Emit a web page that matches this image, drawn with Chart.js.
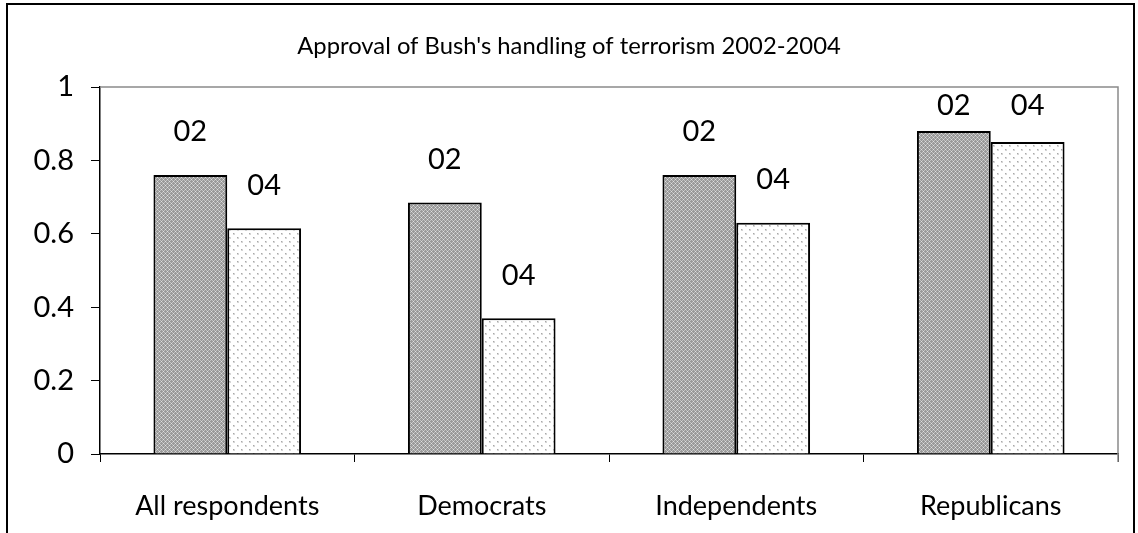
<!DOCTYPE html>
<html>
<head>
<meta charset="utf-8">
<title>Approval of Bush's handling of terrorism 2002-2004</title>
<script src="https://cdn.jsdelivr.net/npm/chart.js@4.4.1/dist/chart.umd.min.js"></script>
<style>
  html, body { margin: 0; padding: 0; background: #fff; }
  #wrap { position: relative; width: 1138px; height: 533px; overflow: hidden; }
  #frame {
    position: absolute; left: 6px; top: 3px; width: 1125px; height: 600px;
    border: 2px solid #000; pointer-events: none;
  }
</style>
</head>
<body>
<div id="wrap">
  <canvas id="chart"></canvas>
  <div id="frame"></div>
</div>
<script>
var titleText = "Approval of Bush's handling of terrorism 2002-2004";
var groups = ['All respondents', 'Democrats', 'Independents', 'Republicans'];
var yearTags = ['02', '04'];
var approval2002 = [0.76, 0.685, 0.76, 0.88];
var approval2004 = [0.615, 0.37, 0.63, 0.85];
var yTicks = [0, 0.2, 0.4, 0.6, 0.8, 1];

var fontFamily = 'Lato, "Noto Sans", sans-serif';

// dense grey cross-hatch for the 2002 bars
function makeDarkPattern() {
  var c = document.createElement('canvas');
  c.width = 4; c.height = 4;
  var g = c.getContext('2d');
  g.fillStyle = '#999999';
  g.fillRect(0, 0, 4, 4);
  g.fillStyle = '#c0c0c0';
  g.fillRect(0, 0, 1, 1); g.fillRect(2, 2, 1, 1);
  g.fillRect(2, 0, 1, 1); g.fillRect(0, 2, 1, 1);
  g.fillStyle = '#e0e0e0';
  g.fillRect(1, 1, 1, 1); g.fillRect(3, 3, 1, 1);
  return g.createPattern(c, 'repeat');
}

// sparse grey dots for the 2004 bars
function makeLightPattern() {
  var c = document.createElement('canvas');
  c.width = 8; c.height = 8;
  var g = c.getContext('2d');
  g.fillStyle = '#ffffff';
  g.fillRect(0, 0, 8, 8);
  g.fillStyle = '#d6d6d6';
  g.fillRect(1, 1, 2, 2); g.fillRect(5, 5, 2, 2);
  g.fillStyle = '#a8a8a8';
  g.fillRect(1, 1, 1, 1); g.fillRect(5, 5, 1, 1);
  return g.createPattern(c, 'repeat');
}

var frameAndLabels = {
  id: 'frameAndLabels',
  beforeDatasetsDraw: function(chart) {
    var ctx = chart.ctx, a = chart.chartArea;
    ctx.save();
    ctx.strokeStyle = '#8a8a8a';
    ctx.lineWidth = 1.5;
    ctx.beginPath();
    ctx.moveTo(a.left, a.top);
    ctx.lineTo(a.right, a.top);
    ctx.lineTo(a.right, a.bottom + 8);
    ctx.stroke();
    ctx.restore();
  },
  afterDatasetsDraw: function(chart) {
    var ctx = chart.ctx;
    ctx.save();
    ctx.fillStyle = '#000';
    ctx.font = '29px ' + fontFamily;
    ctx.textAlign = 'center';
    ctx.textBaseline = 'middle';
    chart.data.datasets.forEach(function(ds, i) {
      chart.getDatasetMeta(i).data.forEach(function(bar) {
        var y = Math.max(bar.y - 43, 106);
        ctx.fillText(yearTags[i], bar.x, y);
      });
    });
    ctx.font = '23.8px ' + fontFamily;
    ctx.fillText(titleText, 569, 46);
    ctx.restore();
  }
};

var ctx = document.getElementById('chart');
new Chart(ctx, {
  type: 'bar',
  data: {
    labels: groups,
    datasets: [{
      label: yearTags[0],
      data: approval2002,
      backgroundColor: makeDarkPattern(),
      borderColor: '#000',
      borderWidth: 2
    }, {
      label: yearTags[1],
      data: approval2004,
      backgroundColor: makeLightPattern(),
      borderColor: '#000',
      borderWidth: 2
    }]
  },
  options: {
    responsive: true,
    maintainAspectRatio: false,
    animation: false,
    categoryPercentage: 0.58,
    barPercentage: 1,
    layout: { padding: { top: 87, right: 20, left: 0, bottom: 0 } },
    plugins: {
      legend: { display: false },
      tooltip: { enabled: false }
    },
    scales: {
      x: {
        grid: { offset: true, drawOnChartArea: false, tickLength: 8, color: '#000', lineWidth: 1 },
        border: { color: '#000', width: 1.5 },
        ticks: { color: '#000', font: { family: fontFamily, size: 27 }, padding: 28 },
        afterFit: function(scale) { scale.height = 79; }
      },
      y: {
        min: 0,
        max: 1,
        afterBuildTicks: function(scale) {
          scale.ticks = yTicks.map(function(v) { return { value: v }; });
        },
        grid: { drawOnChartArea: false, tickLength: 9, color: '#000', lineWidth: 1 },
        border: { color: '#000', width: 1.5 },
        ticks: {
          color: '#000',
          font: { family: fontFamily, size: 29 },
          padding: 17,
          callback: function(v) { return String(Math.round(v * 10) / 10); }
        },
        afterFit: function(scale) { scale.width = 100; }
      }
    }
  },
  plugins: [frameAndLabels]
});
</script>
</body>
</html>
